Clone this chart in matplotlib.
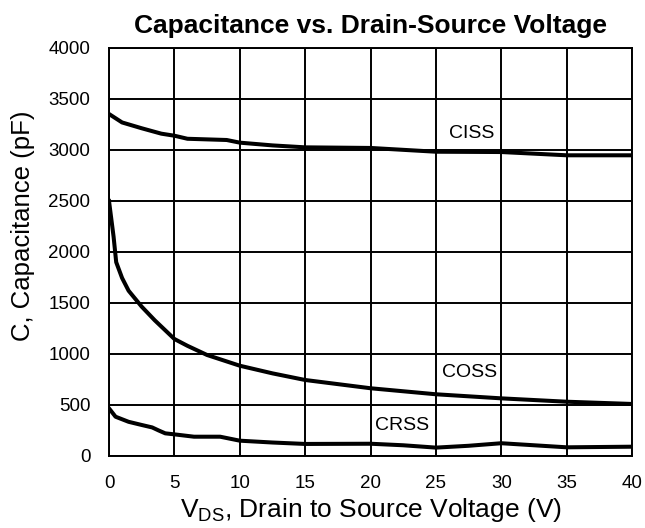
import matplotlib.pyplot as plt

plt.rcParams['font.family'] = ['Liberation Sans', 'DejaVu Sans']

# CISS
ciss_v = [0, 1, 2.5, 4, 5, 6, 7.5, 9, 10, 12.5, 15, 20, 25, 30, 35, 40]
ciss_c = [3353, 3270, 3213, 3160, 3140, 3110, 3104, 3098, 3072, 3045, 3026, 3020, 2983, 2980, 2948, 2948]

# COSS
coss_v = [0, 0.2, 0.35, 0.55, 1, 1.5, 2.5, 3.5, 5, 6, 7.5, 10, 12.5, 15, 20, 25, 30, 35, 40]
coss_c = [2500, 2300, 2150, 1900, 1745, 1620, 1464, 1330, 1147, 1080, 990, 885, 810, 745, 664, 605, 565, 532, 510]

# CRSS
crss_v = [0, 0.5, 1.5, 2.5, 3.3, 3.8, 4.3, 5, 6.5, 8.5, 10, 12.5, 15, 20, 22.5, 25, 27.5, 30, 32.5, 35, 40]
crss_c = [467, 385, 335, 304, 280, 250, 222, 212, 189, 189, 150, 132, 118, 120, 105, 82, 100, 125, 105, 85, 91]

fig = plt.figure(figsize=(6.45, 5.28), dpi=100)
ax = fig.add_axes([0.169, 0.1364, 0.811, 0.7727])

ax.plot(ciss_v, ciss_c, color='black', linewidth=2.9)
ax.plot(coss_v, coss_c, color='black', linewidth=2.9)
ax.plot(crss_v, crss_c, color='black', linewidth=2.9)

ax.text(27.75, 3160, 'CISS', fontsize=14, ha='center', va='center')
ax.text(27.55, 814, 'COSS', fontsize=14, ha='center', va='center')
ax.text(22.4, 297, 'CRSS', fontsize=14, ha='center', va='center')

ax.set_xlim(0, 40)
ax.set_ylim(0, 4000)
ax.set_xticks(range(0, 41, 5))
ax.set_yticks(range(0, 4001, 500))
ax.grid(True, color='black', linewidth=1.4)
ax.tick_params(length=0, labelsize=13.5, pad=13.5)
for s in ax.spines.values():
    s.set_linewidth(1.4)

ax.set_xlabel('V$_{\\mathregular{DS}}$, Drain to Source Voltage (V)', fontsize=19, labelpad=3)
ax.set_ylabel('C, Capacitance (pF)', fontsize=18.5)
ax.yaxis.set_label_coords(-0.142, 0.564)
ax.set_title('Capacitance vs. Drain-Source Voltage', fontsize=19, fontweight='bold', pad=11)

fig.savefig('out.png', dpi=100)
